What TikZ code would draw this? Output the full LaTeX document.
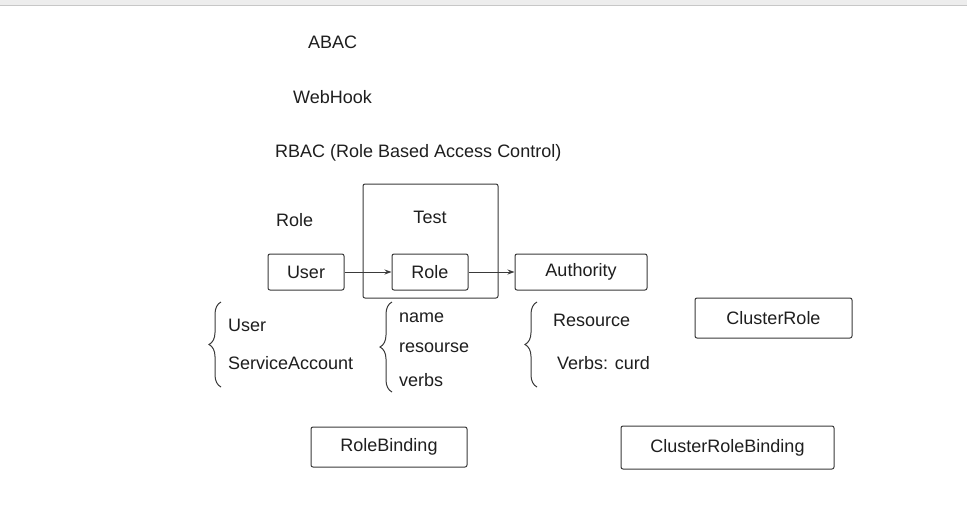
\documentclass[tikz,border=0pt]{standalone}
\usepackage{fontspec}
\setmainfont{Liberation Sans}
\usetikzlibrary{arrows.meta,decorations.pathreplacing}
\definecolor{ink}{HTML}{1E1E1E}
\definecolor{edge}{HTML}{3A3A3A}
\begin{document}
\begin{tikzpicture}[x=1pt,y=-1pt,
  every node/.style={text=ink,font=\fontsize{18}{20}\selectfont,inner sep=0pt},
  lbl/.style={anchor=west},
  box/.style={draw=edge,line width=1pt,rounded corners=2pt,minimum height=36pt},
  conn/.style={draw=edge,line width=1pt,-{Stealth[length=7pt,width=5pt]}},
  brc/.style={draw=edge,line width=1pt,decorate,decoration={brace,amplitude=12pt,aspect=0.5}}]
\useasboundingbox (0,0) rectangle (967,504);
\fill[white] (0,0) rectangle (967,504);
\fill[black!7] (0,0) rectangle (967,5);
\draw[black!22,line width=1pt] (0,5.5) -- (967,5.5);
% headings
\node[lbl] (abac) at (308,42) {ABAC};
\node[lbl] (webhook) at (293,97) {WebHook};
\node[lbl] (rbac) at (275,153) {RBAC (Role Based Access Control)};
\node[lbl] (rolelbl) at (276,220) {Role};
% test box
\node[box,minimum width=135pt,minimum height=114pt] (test) at (430.5,241) {};
\node (testtxt) at (430,217) {Test};
% boxes
\node[box,minimum width=76pt] (user) at (306,272) {User};
\node[box,minimum width=76pt] (role) at (430,272) {Role};
\node[box,minimum width=132pt] (auth) at (581,272) {Authority};
\draw[conn] (user) -- (role);
\draw[conn] (role) -- (auth);
% braces
\draw[brc] (221,387) -- (221,302);
\node[lbl] (u2) at (228,325) {User};
\node[lbl] (sa) at (228,363) {ServiceAccount};
\draw[brc] (392,392) -- (392,302);
\node[lbl] (nm) at (399,318) {name};
\node[lbl] (rs) at (399,348) {resourse};
\node[lbl] (vb) at (399,380) {verbs};
\draw[brc] (537,387) -- (537,302);
\node[lbl] (res) at (553,320) {Resource};
\node[lbl] (vc) at (557,363) {Verbs: curd};
% other boxes
\node[box,minimum width=157pt,minimum height=40pt] (cr) at (773.5,318) {ClusterRole};
\node[box,minimum width=156pt,minimum height=40pt] (rb) at (389,447) {RoleBinding};
\node[box,minimum width=213pt,minimum height=43pt] (crb) at (727.5,447.5) {ClusterRoleBinding};
\end{tikzpicture}
\end{document}
